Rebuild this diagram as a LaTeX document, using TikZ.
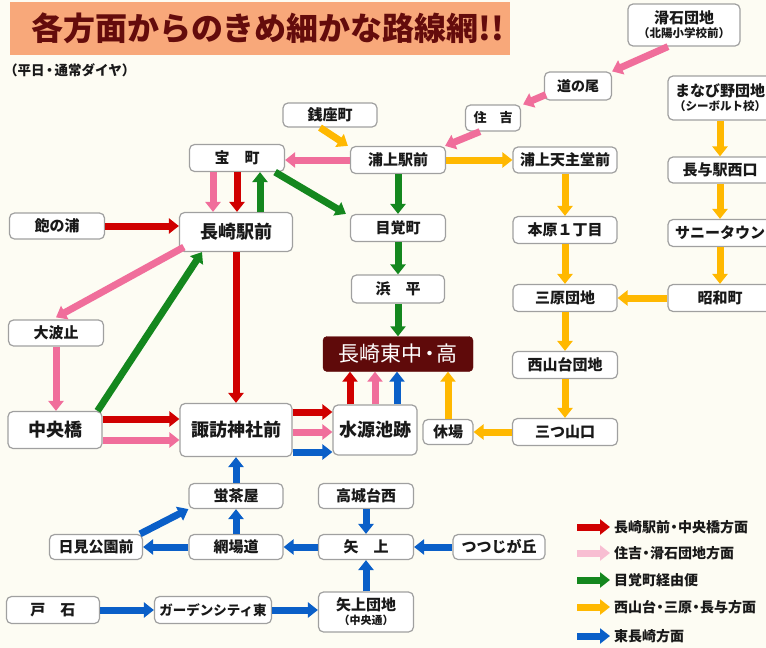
\documentclass[tikz,border=0pt]{standalone}
\usepackage{fontspec}
\setmainfont{Noto Sans CJK JP}
\usetikzlibrary{arrows.meta}
\newcommand\mdotsep{\makebox[8pt][c]{・}}
\definecolor{cBg}{RGB}{253,252,243}
\definecolor{cOrange}{RGB}{248,168,122}
\definecolor{cTitle}{RGB}{100,12,12}
\definecolor{cRed}{RGB}{208,0,0}
\definecolor{cPink}{RGB}{240,110,155}
\definecolor{cGreen}{RGB}{20,135,30}
\definecolor{cYellow}{RGB}{255,184,0}
\definecolor{cBlue}{RGB}{10,95,200}
\definecolor{cBorder}{RGB}{160,160,160}
\definecolor{cMaroon}{RGB}{95,10,10}
\tikzset{
  stn/.style={draw=cBorder, line width=1.2pt, fill=white, rounded corners=5pt, inner sep=0pt,
    align=center, font=\fontsize{15}{17}\selectfont\bfseries, text=black!90},
  big/.style={stn, font=\fontsize{18}{20}\selectfont\bfseries},
  sz/.style 2 args={minimum width=#1pt, minimum height=#2pt},
  ar/.style={line width=7pt, -{Triangle[length=10pt,width=15pt]}},
  rd/.style={ar, draw=cRed},
  pk/.style={ar, draw=cPink},
  gr/.style={ar, draw=cGreen},
  yl/.style={ar, draw=cYellow},
  bl/.style={ar, draw=cBlue},
  lg/.style={anchor=west, inner sep=0pt, font=\fontsize{14}{16}\selectfont\bfseries, text=black!90}
}
\begin{document}
\begin{tikzpicture}[x=1pt,y=-1pt]
\useasboundingbox (0,0) rectangle (766,648);
\fill[cBg] (0,0) rectangle (766,648);
% title
\fill[cOrange] (10,2) rectangle (510,55);
\node[font=\fontsize{32}{34}\selectfont\bfseries, text=cTitle, inner sep=0pt] (title) at (268,28) {各方面からのきめ細かな路線網!!};
\node[anchor=west, inner sep=0pt, font=\fontsize{13.5}{15}\selectfont\bfseries, text=black!90] (subtitle) at (4,70) {（平日\makebox[10pt][c]{・}通常ダイヤ）};

% stations
\node[stn, sz={112}{42}] (nameishi) at (684,25) {滑石団地\\[-3pt]{\fontsize{11.5}{12}\selectfont （北陽小学校前）}};
\node[stn, sz={67}{28}, font=\fontsize{14}{16}\selectfont\bfseries] (michinoo) at (578,86) {道の尾};
\node[stn, sz={55}{26}, font=\fontsize{13}{15}\selectfont\bfseries] (sumiyoshi) at (493,118) {住　吉};
\node[stn, sz={104}{44}] (manabino) at (720,98) {まなび野団地\\[-3pt]{\fontsize{11.5}{12}\selectfont （シーボルト校）}};
\node[stn, sz={94}{24}] (zenza) at (330,115) {銭座町};
\node[stn, sz={95}{27}] (takara) at (237,158) {宝　町};
\node[stn, sz={95}{27}] (urakamieki) at (398,160) {浦上駅前};
\node[stn, sz={104}{26}] (tenshudo) at (565,160) {浦上天主堂前};
\node[stn, sz={104}{26}] (nagayo) at (720,170) {長与駅西口};
\node[stn, sz={95}{26}] (akunoura) at (57,226) {飽の浦};
\node[big, sz={113}{39}] (nagasakieki) at (236,232) {長崎駅前};
\node[stn, sz={95}{27}] (mezame) at (398,228) {目覚町};
\node[stn, sz={104}{27}] (motohara) at (565,230) {本原１丁目};
\node[stn, sz={104}{27}] (sunny) at (720,233) {サニータウン};
\node[stn, sz={93}{28}] (hamahira) at (398,289) {浜　平};
\node[stn, sz={104}{27}] (mihara) at (565,298) {三原団地};
\node[stn, sz={104}{27}] (showa) at (720,298) {昭和町};
\node[stn, sz={95}{26}] (ohato) at (56,333) {大波止};
\node[draw=cMaroon, fill=cMaroon, rounded corners=4pt, inner sep=0pt, sz={150}{35}, text=white,
  font=\fontsize{21}{22}\selectfont] (higashi) at (398,354) {長崎東中\makebox[14pt][c]{・}高};
\node[stn, sz={105}{27}] (nishiyama) at (565,365) {西山台団地};
\node[big, sz={94}{37}] (chuo) at (55,430) {中央橋};
\node[big, sz={112}{53}] (suwa) at (236,430) {諏訪神社前};
\node[big, sz={84}{50}] (suigen) at (375,430) {水源池跡};
\node[stn, sz={50}{25}] (yasumiba) at (448,432) {休場};
\node[stn, sz={105}{27}] (mitsuyama) at (565,432) {三つ山口};
\node[stn, sz={94}{25}] (hotaru) at (236,496) {蛍茶屋};
\node[stn, sz={95}{25}] (takashiro) at (366,496) {高城台西};
\node[stn, sz={93}{25}] (himi) at (96,547) {日見公園前};
\node[stn, sz={94}{25}] (aba) at (236,547) {網場道};
\node[stn, sz={95}{25}] (yagami) at (366,547) {矢　上};
\node[stn, sz={92}{25}] (tsutsuji) at (499,547) {つつじが丘};
\node[stn, sz={93}{27}] (toishi) at (53,610) {戸　石};
\node[stn, sz={117}{27}, font=\fontsize{13.5}{15}\selectfont\bfseries] (garden) at (213,610) {ガーデンシティ東};
\node[stn, sz={95}{40}] (yagamidanchi) at (366,612) {矢上団地\\[-3pt]{\fontsize{11}{12}\selectfont （中央通）}};

% pink
\draw[pk] ([xshift=-16pt]nameishi.south) -- (michinoo.north east);
\draw[pk] ([xshift=2pt,yshift=6pt]michinoo.south west) -- ([xshift=2pt]sumiyoshi.north east);
\draw[pk] ([xshift=-13pt]sumiyoshi.south) -- ([xshift=-1pt]urakamieki.north east);
\draw[pk] (urakamieki.west) -- (urakamieki.west -| takara.east);
\draw[pk] ([xshift=-24pt]takara.south) -- ([xshift=-23pt]nagasakieki.north);
\draw[pk] ([xshift=5pt,yshift=5pt]nagasakieki.south west) -- ([yshift=2pt]ohato.north);
\draw[pk] (ohato.south) -- (ohato.south |- chuo.north);
\draw[pk] ([yshift=-10pt]chuo.east) -- ([yshift=-10pt]suwa.west);
\draw[pk] ([yshift=-2pt]suwa.east) -- ([yshift=-2pt]suigen.west);
\draw[pk] (suigen.north) -- ([xshift=-23pt]higashi.south);
% red
\draw[rd] (takara.south) -- ([xshift=1pt]nagasakieki.north);
\draw[rd] (akunoura.east) -- (akunoura.east -| nagasakieki.west);
\draw[rd] (nagasakieki.south) -- (suwa.north);
\draw[rd] ([yshift=11pt]chuo.east) -- ([yshift=11pt]suwa.west);
\draw[rd] ([yshift=18pt]suwa.east) -- ([yshift=18pt]suigen.west);
\draw[rd] ([xshift=-25pt]suigen.north) -- ([xshift=-48pt]higashi.south);
% green
\draw[gr] ([xshift=24pt]nagasakieki.north) -- ([xshift=23pt]takara.south);
\draw[gr] ([xshift=-10pt]takara.south east) -- ([xshift=-4pt]mezame.north west);
\draw[gr] (urakamieki.south) -- (mezame.north);
\draw[gr] (mezame.south) -- (hamahira.north);
\draw[gr] (hamahira.south) -- (higashi.north);
\draw[gr] ([xshift=-5pt]chuo.north east) -- ([xshift=-34pt]nagasakieki.south);
% yellow
\draw[yl] ([xshift=-10pt]zenza.south) -- ([xshift=-2pt]urakamieki.north west);
\draw[yl] (urakamieki.east) -- (tenshudo.west);
\draw[yl] (manabino.south) -- (nagayo.north);
\draw[yl] (nagayo.south) -- (sunny.north);
\draw[yl] (sunny.south) -- (showa.north);
\draw[yl] (showa.west) -- (mihara.east);
\draw[yl] (tenshudo.south) -- (motohara.north);
\draw[yl] (motohara.south) -- (mihara.north);
\draw[yl] (mihara.south) -- (nishiyama.north);
\draw[yl] (nishiyama.south) -- (mitsuyama.north);
\draw[yl] (mitsuyama.west) -- (yasumiba.east);
\draw[yl] (yasumiba.north) -- (yasumiba.north |- higashi.south);
% blue
\draw[bl] ([yshift=-22pt]suwa.east) -- ([yshift=-22pt]suigen.west);
\draw[bl] ([xshift=22pt]suigen.north) -- ([xshift=-1pt]higashi.south);
\draw[bl] (hotaru.north) -- (suwa.south);
\draw[bl] (aba.north) -- (hotaru.south);
\draw[bl] ([xshift=-3pt]himi.north east) -- (hotaru.south west);
\draw[bl] (aba.west) -- (himi.east);
\draw[bl] (yagami.west) -- (aba.east);
\draw[bl] (takashiro.south) -- (yagami.north);
\draw[bl] (tsutsuji.west) -- (yagami.east);
\draw[bl] (yagamidanchi.north) -- (yagami.south);
\draw[bl] (toishi.east) -- (garden.west);
\draw[bl] (garden.east) -- (garden.east -| yagamidanchi.west);

% legend
\node[lg] (lg1) at (614,527) {長崎駅前\mdotsep 中央橋方面};
\node[lg] (lg2) at (614,553) {住吉\mdotsep 滑石団地方面};
\node[lg] (lg3) at (614,580) {目覚町経由便};
\node[lg] (lg4) at (614,607) {西山台\mdotsep 三原\mdotsep 長与方面};
\node[lg] (lg5) at (614,636) {東長崎方面};
\draw[rd] ([xshift=-37pt]lg1.west) -- ([xshift=-4pt]lg1.west);
\draw[ar, draw=cPink!45] ([xshift=-37pt]lg2.west) -- ([xshift=-4pt]lg2.west);
\draw[gr] ([xshift=-37pt]lg3.west) -- ([xshift=-4pt]lg3.west);
\draw[yl] ([xshift=-37pt]lg4.west) -- ([xshift=-4pt]lg4.west);
\draw[bl] ([xshift=-37pt]lg5.west) -- ([xshift=-4pt]lg5.west);
\end{tikzpicture}
\end{document}
